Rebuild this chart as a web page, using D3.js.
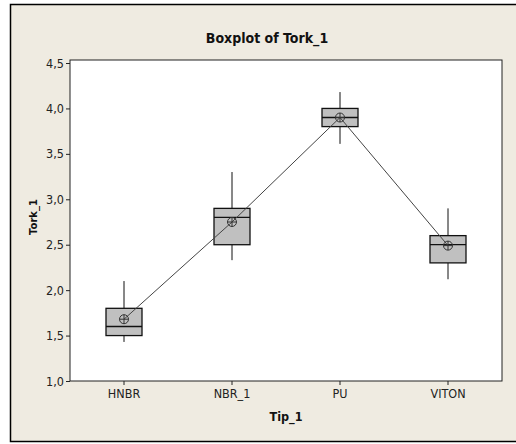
<!DOCTYPE html>
<html>
<head>
<meta charset="utf-8">
<script src="https://cdn.jsdelivr.net/npm/d3@7"></script>
<style>
  body { margin: 0; background: #fff; }
  svg { display: block; }
  .tick text { font-family: "Liberation Sans Narrow", "DejaVu Sans Condensed", sans-serif; font-size: 12.5px; fill: #222; }
</style>
</head>
<body>
<div id="chart"></div>
<script>
// categories and per-group box statistics
const groups = ["HNBR", "NBR_1", "PU", "VITON"];
const whiskerLow = [1.43, 2.33, 3.61, 2.12];
const q1 = [1.50, 2.50, 3.80, 2.30];
const medians = [1.60, 2.80, 3.90, 2.50];
const q3 = [1.80, 2.90, 4.00, 2.60];
const whiskerHigh = [2.10, 3.30, 4.18, 2.90];
const means = [1.68, 2.75, 3.90, 2.49];
const yTicks = [1.0, 1.5, 2.0, 2.5, 3.0, 3.5, 4.0, 4.5];

const width = 516, height = 444;
const plot = { left: 70, right: 502, top: 60, bottom: 381 };

const svg = d3.select("#chart").append("svg")
  .attr("width", width).attr("height", height);

// beige frame
svg.append("rect").attr("x", 10.5).attr("y", 4.5)
  .attr("width", 520).attr("height", 437)
  .attr("fill", "#efebe1").attr("stroke", "#000").attr("stroke-width", 1.5);

svg.append("rect").attr("x", plot.left).attr("y", plot.top)
  .attr("width", plot.right - plot.left).attr("height", plot.bottom - plot.top)
  .attr("fill", "#fff").attr("stroke", "#222").attr("stroke-width", 1);

const x = d3.scaleBand().domain(groups).range([plot.left, plot.right]);
const y = d3.scaleLinear().domain([1.0, 4.5]).range([plot.bottom, 63]);
const fmt = d => d3.format(".1f")(d).replace(".", ",");

svg.append("g").attr("transform", `translate(${plot.left},0)`)
  .call(d3.axisLeft(y).tickValues(yTicks).tickFormat(fmt).tickSize(4).tickPadding(2))
  .call(g => g.select(".domain").remove())
  .call(g => g.selectAll(".tick line").attr("stroke", "#222"));

svg.append("g").attr("transform", `translate(0,${plot.bottom})`)
  .call(d3.axisBottom(x).tickSize(4).tickPadding(4))
  .call(g => g.select(".domain").remove())
  .call(g => g.selectAll(".tick line").attr("stroke", "#222"));

const cx = g => x(g) + x.bandwidth() / 2;
const boxW = 36;

const boxes = svg.append("g").selectAll("g").data(groups).join("g");
boxes.append("line")
  .attr("x1", d => cx(d)).attr("x2", d => cx(d))
  .attr("y1", (d, i) => y(whiskerHigh[i])).attr("y2", (d, i) => y(q3[i]))
  .attr("stroke", "#111");
boxes.append("line")
  .attr("x1", d => cx(d)).attr("x2", d => cx(d))
  .attr("y1", (d, i) => y(q1[i])).attr("y2", (d, i) => y(whiskerLow[i]))
  .attr("stroke", "#111");
boxes.append("rect")
  .attr("x", d => cx(d) - boxW / 2).attr("width", boxW)
  .attr("y", (d, i) => y(q3[i])).attr("height", (d, i) => y(q1[i]) - y(q3[i]))
  .attr("fill", "#c0c0c0").attr("stroke", "#111").attr("stroke-width", 1.3);
boxes.append("line")
  .attr("x1", d => cx(d) - boxW / 2).attr("x2", d => cx(d) + boxW / 2)
  .attr("y1", (d, i) => y(medians[i])).attr("y2", (d, i) => y(medians[i]))
  .attr("stroke", "#111").attr("stroke-width", 1.3);

// mean connect line
svg.append("path")
  .datum(groups)
  .attr("d", d3.line().x(d => cx(d)).y((d, i) => y(means[i])))
  .attr("fill", "none").attr("stroke", "#444").attr("stroke-width", 1);

const meanSym = svg.append("g").selectAll("g").data(groups).join("g")
  .attr("transform", (d, i) => `translate(${cx(d)},${y(means[i])})`);
meanSym.append("circle").attr("r", 4.5).attr("fill", "none").attr("stroke", "#333");
meanSym.append("path").attr("d", "M-4.5,0H4.5M0,-4.5V4.5").attr("stroke", "#333");

svg.append("text").attr("x", 267).attr("y", 43)
  .attr("text-anchor", "middle")
  .style("font-family", "'Liberation Sans Narrow', 'DejaVu Sans Condensed', sans-serif")
  .style("font-weight", "bold").style("font-size", "14px").attr("fill", "#111")
  .text("Boxplot of Tork_1");

svg.append("text").attr("x", 286).attr("y", 421)
  .attr("text-anchor", "middle")
  .style("font-family", "'Liberation Sans Narrow', 'DejaVu Sans Condensed', sans-serif")
  .style("font-weight", "bold").style("font-size", "12.5px").attr("fill", "#111")
  .text("Tip_1");

svg.append("text")
  .attr("transform", "translate(37,217) rotate(-90)")
  .attr("text-anchor", "middle")
  .style("font-family", "'DejaVu Sans', sans-serif")
  .style("font-weight", "bold").style("font-size", "10px").attr("fill", "#111")
  .text("Tork_1");
</script>
</body>
</html>
